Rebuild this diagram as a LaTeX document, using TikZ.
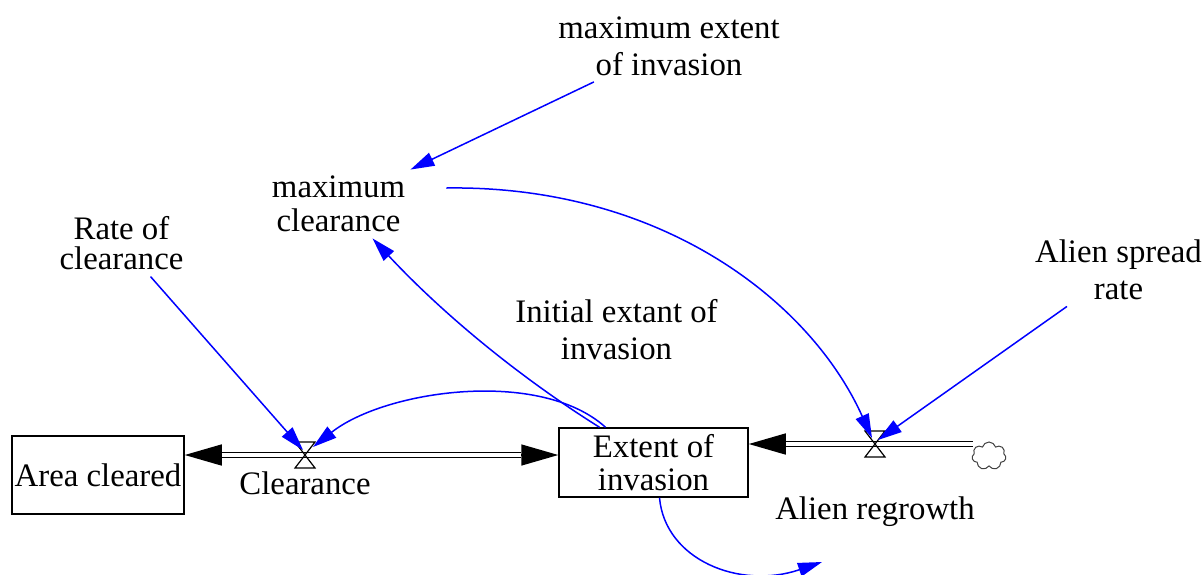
\documentclass[tikz,border=0pt]{standalone}
\usepackage{fontspec}
\setmainfont{Liberation Serif}
\usetikzlibrary{arrows.meta,calc,shapes.symbols}

\tikzset{
  lbl/.style={align=center, inner sep=3pt, font=\fontsize{16.4}{18.5}\selectfont},
  stock/.style={draw, line width=0.75pt, inner sep=0pt, align=center, font=\fontsize{16.4}{16.5}\selectfont},
  pipe/.style={double, double distance=1.8pt, line width=0.75pt},
  flowtip/.style={line width=0.75pt, -{Triangle[length=18.5pt,width=10.5pt]}},
  link/.style={blue, line width=0.75pt, -{Triangle[length=12pt,width=7pt]}},
  valve/.style={line width=0.6pt},
}

\begin{document}
\begin{tikzpicture}[x=0.5pt,y=-0.5pt]
\useasboundingbox (0,0) rectangle (1204,574);

\node[stock, minimum width=86pt, minimum height=39pt] (area) at (98,475) {Area cleared};
\node[stock, minimum width=94.5pt, minimum height=34.5pt] (extent) at (653.5,462.5) {Extent of\\invasion};

\coordinate (clrv) at (305,455);
\coordinate (alnv) at (875,444);
\coordinate (src) at (973,444);
\coordinate (outflow) at (822,562);
\coordinate (areaend) at (area.east |- clrv);
\coordinate (extwest) at (extent.west |- clrv);
\coordinate (exteast) at (extent.east |- alnv);

\node[cloud, cloud puffs=7, aspect=1.3, draw=black!75, line width=0.5pt, minimum width=17pt, minimum height=14pt, inner sep=0pt] (cloud) at (989,456) {};

\draw[flowtip] ($(areaend)+(38,0)$) -- (areaend);
\draw[flowtip] ($(extwest)+(-38,0)$) -- (extwest);
\draw[flowtip] ($(exteast)+(38,0)$) -- (exteast);

\draw[pipe, shorten <=18.5pt, shorten >=18.5pt] (areaend) -- (extwest);
\draw[pipe, shorten >=18.5pt] (src) -- (exteast);

\draw[valve] (clrv) ++(-10,-13) -- ++(20,0) -- ++(-20,26) -- ++(20,0) -- cycle;
\draw[valve] (alnv) ++(-10,-13) -- ++(20,0) -- ++(-20,26) -- ++(20,0) -- cycle;

\node[lbl] (clr) at (305,483.5) {Clearance};
\node[lbl] (regrow) at (875,512) {Alien regrowth};
\node[lbl] (maxext) at (669,46) {maximum extent\\of invasion};
\node[lbl, font=\fontsize{16.4}{17}\selectfont] (maxclr) at (338.5,204) {maximum\\clearance};
\node[lbl, font=\fontsize{16.4}{15}\selectfont] (rate) at (121.5,243.5) {Rate of\\clearance};
\node[lbl] (spread) at (1118.5,270) {Alien spread\\rate};
\node[lbl] (init) at (616.5,330) {Initial extant of\\invasion};

\draw[link] (maxext) -- (maxclr);
\draw[link] (rate) -- ($(clrv)+(-2,-5)$);
\draw[link] (spread) -- ($(alnv)+(3,-4)$);
\draw[link] ([xshift=17.5pt,yshift=8pt]maxclr.east) .. controls (660,185) and (810,300) .. ($(alnv)+(-3,-6)$);
\draw[link] ([xshift=-27pt]extent.north) .. controls (516,375) and (440,311) .. ([xshift=17pt]maxclr.south);
\draw[link] ([xshift=-24pt]extent.north) .. controls (540,368) and (385,390) .. ($(clrv)+(8,-8)$);
\draw[link] ([xshift=3pt]extent.south) .. controls (665,560) and (740,590) .. (outflow);
\end{tikzpicture}
\end{document}
